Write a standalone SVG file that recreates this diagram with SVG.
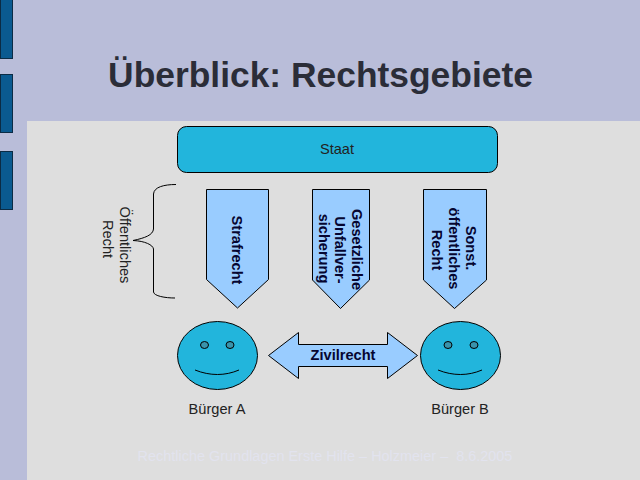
<svg xmlns="http://www.w3.org/2000/svg" width="640" height="480" viewBox="0 0 640 480">
<style>
.s{stroke:#000;stroke-width:1}
.c{fill:#22b5dc}
.p{fill:#99ccff}
.b{fill:#0a5a90;stroke:#0b2b44;stroke-width:1}
text{font-family:"Liberation Sans",Arial,sans-serif}
.n{font-size:14.600px;fill:#222;text-anchor:middle}
.h{font-size:14.600px;font-weight:bold;fill:#050530;text-anchor:middle}
.e{fill:#3a93ab;stroke:#000;stroke-width:1}
.l{fill:none;stroke:#000;stroke-width:1}
</style>
<rect width="640" height="480" fill="#b9bdd9"/>
<rect x="27" y="121" width="613" height="359" fill="#dedede"/>
<g id="sidebar">
<rect class="b" x="0.500" y="-1" width="12" height="59.500"/>
<rect class="b" x="0.500" y="74.500" width="12" height="58"/>
<rect class="b" x="0.500" y="151.500" width="12" height="58"/>
</g>
<text id="title" x="320.500" y="87" font-size="35.400" font-weight="bold" fill="#2b2d38" text-anchor="middle">Überblick: Rechtsgebiete</text>
<g id="staat"><rect class="s c" x="177.500" y="126.500" width="320" height="46" rx="9" ry="9"/><text class="n" x="337" y="153.500">Staat</text></g>
<g id="strafrecht"><path class="s p" d="M206.500 189.500H268.500V279.500L237.500 308L206.500 279.500Z"/><text class="h" transform="translate(232 250) rotate(90)">Strafrecht</text></g>
<g id="unfall"><path class="s p" d="M312.500 189.500H369.500V280L340.500 308.500L312.500 280Z"/><text class="h" transform="translate(352 249.500) rotate(90)">Gesetzliche</text><text class="h" transform="translate(335 250) rotate(90)">Unfallver-</text><text class="h" transform="translate(319 248.500) rotate(90)">sicherung</text></g>
<g id="sonst"><path class="s p" d="M423.500 189.500H486.500V280L454.500 308.500L423.500 280Z"/><text class="h" transform="translate(466 248) rotate(90)">Sonst.</text><text class="h" transform="translate(449 248.500) rotate(90)">öffentliches</text><text class="h" transform="translate(432 250) rotate(90)">Recht</text></g>
<g id="klammer"><path class="l" d="M176 184.500C164 184.500 154 187 153.500 194V229C153 235 145 238 133 240.500C145 241 153 245 153.500 249V292C154 296 165 298 175 298"/><text class="n" transform="translate(120 245) rotate(90)">Öffentliches</text><text class="n" transform="translate(103 239) rotate(90)">Recht</text></g>
<g id="buerger-a"><ellipse class="s c" cx="217.500" cy="355.500" rx="40" ry="34"/><ellipse class="e" cx="204.500" cy="345" rx="4" ry="3.500"/><ellipse class="e" cx="230" cy="345" rx="4" ry="3.500"/><path class="l" d="M195 370C210 376 225 376 239 370"/><text class="n" x="217" y="414">Bürger A</text></g>
<g id="buerger-b"><ellipse class="s c" cx="460.500" cy="355.500" rx="40" ry="34"/><ellipse class="e" cx="448" cy="345" rx="4" ry="3.500"/><ellipse class="e" cx="474" cy="345" rx="4" ry="3.500"/><path class="l" d="M438 370C453 376 468 376 482 370"/><text class="n" x="460" y="414">Bürger B</text></g>
<g id="zivilrecht"><path class="s p" d="M268.500 355.500L298.500 332.500V344.500H387.500V332.500L417.500 355.500L387.500 378.500V366.500H298.500V378.500Z"/><text class="h" x="343" y="360">Zivilrecht</text></g>
<text id="footer" x="325" y="461" font-size="14.450" fill="#e2e3ee" text-anchor="middle" xml:space="preserve">Rechtliche Grundlagen Erste Hilfe – Holzmeier –  8.6.2005</text>
</svg>
